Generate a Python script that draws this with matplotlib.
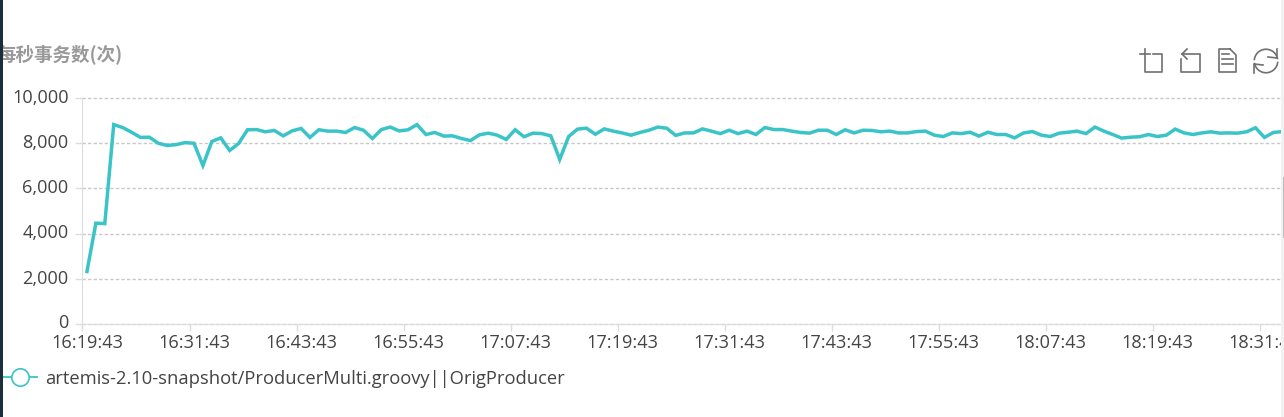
import matplotlib
matplotlib.use("Agg")
import numpy as np
import matplotlib.pyplot as plt
from matplotlib.lines import Line2D
from matplotlib.patches import Rectangle, Arc

plt.rcParams['font.family'] = ['Open Sans', 'Noto Sans CJK SC', 'DejaVu Sans']

W, H = 1284, 417
TEAL = '#3ac4c7'
TEXT = '#444444'

# transactions per second, one sample per minute
tps = [2310, 4460, 4440, 8840, 8710, 8500, 8270, 8280, 8010, 7910,
       7950, 8040, 8010, 7020, 8090, 8250, 7690, 8000, 8610, 8620,
       8520, 8580, 8340, 8560, 8670, 8270, 8610, 8550, 8550, 8490,
       8710, 8590, 8220, 8620, 8730, 8560, 8610, 8840, 8400,
       8490, 8330, 8340, 8220, 8130, 8385, 8460, 8370, 8180, 8610,
       8300, 8460, 8440, 8340, 7290, 8310, 8640, 8680, 8410, 8650,
       8550, 8470, 8370, 8490, 8590, 8730, 8680, 8360, 8470, 8470,
       8650, 8550, 8440, 8590, 8440, 8550, 8400, 8710, 8620, 8620,
       8550, 8490, 8460, 8590, 8590, 8400, 8610, 8470,
       8590, 8580, 8520, 8550, 8470, 8470, 8530, 8550, 8370, 8310,
       8470, 8440, 8500, 8330, 8500, 8400, 8400, 8250, 8470, 8530,
       8370, 8310, 8460, 8500, 8550, 8440, 8730, 8550, 8400, 8240,
       8280, 8300, 8400, 8310, 8370, 8640, 8470, 8400, 8470, 8520,
       8460, 8470, 8460, 8520, 8700, 8270, 8490, 8530]
time_labels = ['16:19:43', '16:31:43', '16:43:43', '16:55:43', '17:07:43',
               '17:19:43', '17:31:43', '17:43:43', '17:55:43', '18:07:43',
               '18:19:43', '18:31:43']
y_ticks = [0, 2000, 4000, 6000, 8000, 10000]
series_name = 'artemis-2.10-snapshot/ProducerMulti.groovy||OrigProducer'
chart_title = '每秒事务数(次)'

fig = plt.figure(figsize=(W / 100, H / 100), dpi=100)
step = 8.92
left, right, top, bottom = 82.5, 1300, 98.5, 323.5
ax = fig.add_axes([left / W, 1 - bottom / H, (right - left) / W, (bottom - top) / H])
ax.set_xlim(-0.5, -0.5 + (right - left) / step)
ax.set_ylim(0, 10000)

x = np.arange(len(tps))
ax.plot(x, tps, color=TEAL, lw=2.5, solid_joinstyle='miter', zorder=3)

ax.set_yticks(y_ticks)
ax.set_yticklabels([f'{v:,}' for v in y_ticks])
ax.yaxis.grid(True, color='#c8c8c8', ls=(0, (2.4, 1.6)), lw=1.0, clip_on=False)
ax.set_axisbelow(True)

tick_x = np.arange(len(time_labels)) * 12
ax.set_xticks(tick_x - 0.5)
ax.set_xticklabels([])
ax.set_xticks(tick_x, labels=time_labels, minor=True)
ax.tick_params(axis='x', which='minor', length=0, pad=7.3, labelsize=13.1, labelcolor=TEXT)
ax.tick_params(axis='x', which='major', length=5, color='#dddddd', width=1)
ax.tick_params(axis='y', length=5, color='#dddddd', width=1, pad=5, labelsize=13.1, labelcolor=TEXT)
for lab in ax.get_yticklabels():
    lab.set_y(lab.get_position()[1])
    lab.set_verticalalignment('center')
for s in ['top', 'right']:
    ax.spines[s].set_visible(False)
for s in ['left', 'bottom']:
    ax.spines[s].set_color('#dddddd')

handle = Line2D([], [], color=TEAL, lw=1.3, marker='o', ms=12.5, mfc='white', mew=1.2)
ax.legend(handles=[handle], labels=[series_name], frameon=False, prop={'size': 13.2},
          labelcolor=TEXT, loc='center left', bbox_to_anchor=(2 / W, 1 - 378.5 / H),
          bbox_transform=fig.transFigure, borderpad=0, borderaxespad=0,
          handlelength=1.92, handletextpad=0.44)

fig.text(-3 / W, 1 - 54 / H, chart_title, fontsize=13.3, fontweight='bold', color='#999999',
         family=['Noto Sans CJK SC', 'DejaVu Sans'], va='center', ha='left')


# toolbox icons, drawn in pixel coordinates of the screenshot
def px(xs, ys, color='#707070', lw=1.2):
    fig.add_artist(Line2D(np.array(xs) / W, 1 - np.array(ys) / H, color=color, lw=lw))


px([1140, 1150], [53.5, 53.5])
px([1145, 1145, 1162, 1162, 1153], [49, 72, 72, 54, 54])
px([1182, 1200, 1200, 1181, 1181], [54, 54, 72, 72, 59])
px([1187, 1182, 1187], [49, 54, 59])
px([1230, 1219, 1219, 1236, 1236, 1230], [49, 49, 72, 72, 55, 49])
px([1222, 1229], [54, 54])
px([1222, 1233], [59, 59])
px([1222, 1233], [64, 64])
for t1, t2 in [(25, 170), (205, 350)]:
    fig.add_artist(Arc((1266 / W, 1 - 61 / H), 23.5 / W, 23.5 / H, theta1=t1, theta2=t2,
                       color='#707070', lw=1.2, transform=fig.transFigure))
px([1277, 1277, 1268], [49, 58, 57])
px([1254, 1254, 1263], [73, 64, 65])

# page edges of the screenshot
fig.add_artist(Rectangle((0, 0), 3 / W, 1, color='#1e2d3b', lw=0, transform=fig.transFigure, zorder=5))
fig.add_artist(Rectangle((1281 / W, 0), 3 / W, 1, color='#f1f1f1', lw=0, transform=fig.transFigure, zorder=5))
fig.add_artist(Rectangle((1283 / W, 1 - 238 / H), 1 / W, 61 / H, color='#bdbdbd', lw=0, transform=fig.transFigure, zorder=6))

fig.savefig('out.png', dpi=100)
